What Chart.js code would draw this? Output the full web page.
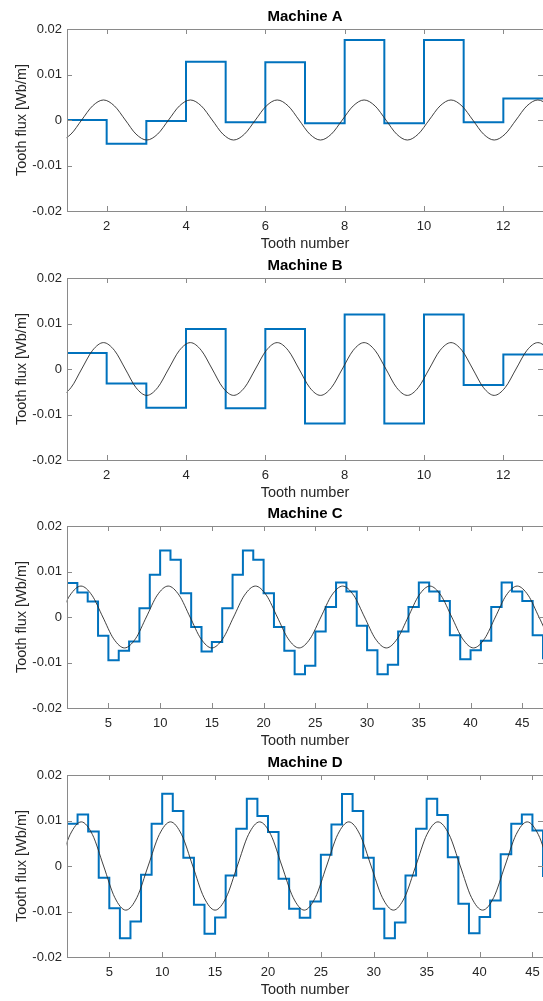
<!DOCTYPE html>
<html>
<head>
<meta charset="utf-8">
<script src="https://cdn.jsdelivr.net/npm/chart.js@4.4.0/dist/chart.umd.min.js"></script>
<style>
  html, body { margin: 0; padding: 0; background: #fff; width: 543px; height: 1001px; overflow: hidden; }
  .panel { position: absolute; left: 0; width: 545px; height: 250px; }
</style>
</head>
<body>
<div class="panel" style="top:0px"><canvas id="chartA" width="545" height="250"></canvas></div>
<div class="panel" style="top:249px"><canvas id="chartB" width="545" height="250"></canvas></div>
<div class="panel" style="top:497px"><canvas id="chartC" width="545" height="250"></canvas></div>
<div class="panel" style="top:746px"><canvas id="chartD" width="545" height="250"></canvas></div>
<script>
// ===== Data: tooth flux per tooth (last value closes the stairs) =====
const fluxA = [0.0000, -0.0052, -0.0002, 0.0128, -0.0005, 0.0127, -0.0007, 0.0176, -0.0007, 0.0176, -0.0005, 0.0047, 0.0047];
const fluxB = [0.0035, -0.0032, -0.0085, 0.0088, -0.0086, 0.0088, -0.0120, 0.0120, -0.0120, 0.0120, -0.0035, 0.0032, 0.0032];
const fluxC = [
  0.0075, 0.0054, 0.0034, -0.0041, -0.0095, -0.0074, -0.0054, 0.0019, 0.0093, 0.0146,
  0.0126, 0.0052, -0.0022, -0.0076, -0.0055, 0.0019, 0.0093, 0.0146, 0.0126, 0.0052,
  -0.0022, -0.0074, -0.0126, -0.0107, -0.0032, 0.0022, 0.0076, 0.0056, -0.0019, -0.0073,
  -0.0126, -0.0105, -0.0032, 0.0022, 0.0076, 0.0056, 0.0035, -0.0040, -0.0093, -0.0073,
  -0.0052, 0.0022, 0.0076, 0.0056, 0.0035, -0.0040, -0.0093,
];
const fluxD = [
  0.0093, 0.0113, 0.0076, -0.0026, -0.0093, -0.0159, -0.0122, -0.0019, 0.0093, 0.0159,
  0.0121, 0.0018, -0.0085, -0.0149, -0.0113, -0.0021, 0.0082, 0.0148, 0.0110, 0.0075,
  -0.0028, -0.0094, -0.0114, -0.0078, 0.0025, 0.0091, 0.0158, 0.0121, 0.0018, -0.0094,
  -0.0159, -0.0124, -0.0021, 0.0082, 0.0148, 0.0112, 0.0019, -0.0083, -0.0148, -0.0112,
  -0.0076, 0.0026, 0.0093, 0.0113, 0.0078, -0.0024,
];

// fundamental wave, read at every eighth of its period (one row = one period)
const waveAB_x = [
  0.28, 0.555, 0.83, 1.10, 1.37, 1.645, 1.92, 2.195,
  2.47, 2.74, 3.01, 3.285, 3.56, 3.835, 4.11, 4.385,
  4.66, 4.93, 5.20, 5.475, 5.75, 6.025, 6.30, 6.575,
  6.85, 7.12, 7.39, 7.665, 7.94, 8.215, 8.49, 8.765,
  9.04, 9.31, 9.58, 9.855, 10.13, 10.405, 10.68, 10.955,
  11.23, 11.50, 11.77, 12.045, 12.32, 12.595, 12.87, 13.145,
  13.42, 13.69, 13.96,
];
const waveA_y = [
  0, -0.0031, -0.0044, -0.0031, 0, 0.0031, 0.0044, 0.0031,
  0, -0.0031, -0.0044, -0.0031, 0, 0.0031, 0.0044, 0.0031,
  0, -0.0031, -0.0044, -0.0031, 0, 0.0031, 0.0044, 0.0031,
  0, -0.0031, -0.0044, -0.0031, 0, 0.0031, 0.0044, 0.0031,
  0, -0.0031, -0.0044, -0.0031, 0, 0.0031, 0.0044, 0.0031,
  0, -0.0031, -0.0044, -0.0031, 0, 0.0031, 0.0044, 0.0031,
  0, -0.0031, -0.0044,
];
const waveB_y = [
  0, -0.0041, -0.0058, -0.0041, 0, 0.0041, 0.0058, 0.0041,
  0, -0.0041, -0.0058, -0.0041, 0, 0.0041, 0.0058, 0.0041,
  0, -0.0041, -0.0058, -0.0041, 0, 0.0041, 0.0058, 0.0041,
  0, -0.0041, -0.0058, -0.0041, 0, 0.0041, 0.0058, 0.0041,
  0, -0.0041, -0.0058, -0.0041, 0, 0.0041, 0.0058, 0.0041,
  0, -0.0041, -0.0058, -0.0041, 0, 0.0041, 0.0058, 0.0041,
  0, -0.0041, -0.0058,
];
const waveCD_x = [
  -1.87, -0.815, 0.24, 1.295, 2.35, 3.405, 4.46, 5.51,
  6.56, 7.615, 8.67, 9.725, 10.78, 11.835, 12.89, 13.945,
  15.00, 16.05, 17.10, 18.155, 19.21, 20.265, 21.32, 22.375,
  23.43, 24.485, 25.54, 26.59, 27.64, 28.695, 29.75, 30.805,
  31.86, 32.915, 33.97, 35.02, 36.07, 37.125, 38.18, 39.235,
  40.29, 41.345, 42.40, 43.455, 44.51, 45.56, 46.61, 47.665,
  48.72,
];
const waveC_y = [
  -0.0068, -0.0048, 0, 0.0048, 0.0068, 0.0048, 0, -0.0048,
  -0.0068, -0.0048, 0, 0.0048, 0.0068, 0.0048, 0, -0.0048,
  -0.0068, -0.0048, 0, 0.0048, 0.0068, 0.0048, 0, -0.0048,
  -0.0068, -0.0048, 0, 0.0048, 0.0068, 0.0048, 0, -0.0048,
  -0.0068, -0.0048, 0, 0.0048, 0.0068, 0.0048, 0, -0.0048,
  -0.0068, -0.0048, 0, 0.0048, 0.0068, 0.0048, 0, -0.0048,
  -0.0068,
];
const waveD_y = [
  -0.0097, -0.0069, 0, 0.0069, 0.0097, 0.0069, 0, -0.0069,
  -0.0097, -0.0069, 0, 0.0069, 0.0097, 0.0069, 0, -0.0069,
  -0.0097, -0.0069, 0, 0.0069, 0.0097, 0.0069, 0, -0.0069,
  -0.0097, -0.0069, 0, 0.0069, 0.0097, 0.0069, 0, -0.0069,
  -0.0097, -0.0069, 0, 0.0069, 0.0097, 0.0069, 0, -0.0069,
  -0.0097, -0.0069, 0, 0.0069, 0.0097, 0.0069, 0, -0.0069,
  -0.0097,
];

const ticksAB = [2, 4, 6, 8, 10, 12];
const ticksCD = [5, 10, 15, 20, 25, 30, 35, 40, 45];
const ticksY = [-0.02, -0.01, 0, 0.01, 0.02];

// ===== Defaults =====
Chart.defaults.font.family = "'Liberation Sans', Arial, Helvetica, sans-serif";
Chart.defaults.color = '#262626';

// MATLAB-like box with inward ticks on all four sides
const boxPlugin = {
  id: 'boxPlugin',
  afterDatasetsDraw(chart) {
    const { ctx, chartArea: a, scales: { x, y } } = chart;
    const len = 5;
    ctx.save();
    ctx.strokeStyle = '#8a8a8a';
    ctx.lineWidth = 1;
    ctx.strokeRect(a.left + 0.5, a.top + 0.5, a.right - a.left, a.bottom - a.top);
    ctx.beginPath();
    x.ticks.forEach(t => {
      const px = Math.round(x.getPixelForValue(t.value)) + 0.5;
      ctx.moveTo(px, a.bottom); ctx.lineTo(px, a.bottom - len);
      ctx.moveTo(px, a.top); ctx.lineTo(px, a.top + len);
    });
    y.ticks.forEach(t => {
      const py = Math.round(y.getPixelForValue(t.value)) + 0.5;
      ctx.moveTo(a.left, py); ctx.lineTo(a.left + len, py);
      ctx.moveTo(a.right, py); ctx.lineTo(a.right - len, py);
    });
    ctx.stroke();
    ctx.restore();
  },
};

function makeChart(id, title, flux, waveX, waveY, xMax, xTicks) {
  const ctx = document.getElementById(id).getContext('2d');
  new Chart(ctx, {
    type: 'line',
    data: {
      datasets: [
        {
          data: waveX.map((v, i) => ({ x: v, y: waveY[i] })),
          borderColor: '#2b2b2b',
          borderWidth: 0.9,
          pointRadius: 0,
          cubicInterpolationMode: 'monotone',
        },
        {
          data: flux.map((v, i) => ({ x: i + 1, y: v })),
          borderColor: '#0072BD',
          borderWidth: 2,
          pointRadius: 0,
          stepped: true,
        },
      ],
    },
    options: {
      responsive: false,
      animation: false,
      events: [],
      layout: { padding: { left: 0, right: 2, top: 0, bottom: 0 } },
      elements: { line: { capBezierPoints: false } },
      plugins: {
        legend: { display: false },
        tooltip: { enabled: false },
        title: {
          display: true,
          text: title,
          color: '#000',
          fullSize: false,
          font: { size: 15, weight: 'bold' },
          padding: { top: 8, bottom: 3 },
        },
      },
      scales: {
        x: {
          type: 'linear',
          bounds: 'data',
          afterDataLimits: s => { s.min = 1; s.max = xMax; },
          afterBuildTicks: s => { s.ticks = xTicks.map(v => ({ value: v })); },
          afterFit: s => { s.height = 39; s.paddingLeft = 0; s.paddingRight = 0; },
          grid: { display: false, drawTicks: false },
          border: { display: false },
          ticks: { font: { size: 13 }, padding: 8, maxRotation: 0, autoSkip: false },
          title: {
            display: true,
            text: 'Tooth number',
            font: { size: 14.5, lineHeight: 0.85 },
            padding: { top: 0, bottom: 0 },
          },
        },
        y: {
          type: 'linear',
          min: -0.02,
          max: 0.02,
          afterBuildTicks: s => { s.ticks = ticksY.map(v => ({ value: v })); },
          afterFit: s => { s.width = 67; },
          grid: { display: false, drawTicks: false },
          border: { display: false },
          ticks: {
            font: { size: 13 },
            padding: 5,
            callback: v => (v === 0 ? '0' : v.toFixed(2)),
          },
          title: {
            display: true,
            text: 'Tooth flux [Wb/m]',
            font: { size: 14.5, lineHeight: 1 },
            padding: { top: 15, bottom: 0 },
          },
        },
      },
    },
    plugins: [boxPlugin],
  });
}

makeChart('chartA', 'Machine A', fluxA, waveAB_x, waveA_y, 13, ticksAB);
makeChart('chartB', 'Machine B', fluxB, waveAB_x, waveB_y, 13, ticksAB);
makeChart('chartC', 'Machine C', fluxC, waveCD_x, waveC_y, 47, ticksCD);
makeChart('chartD', 'Machine D', fluxD, waveCD_x, waveD_y, 46, ticksCD);
</script>
</body>
</html>
